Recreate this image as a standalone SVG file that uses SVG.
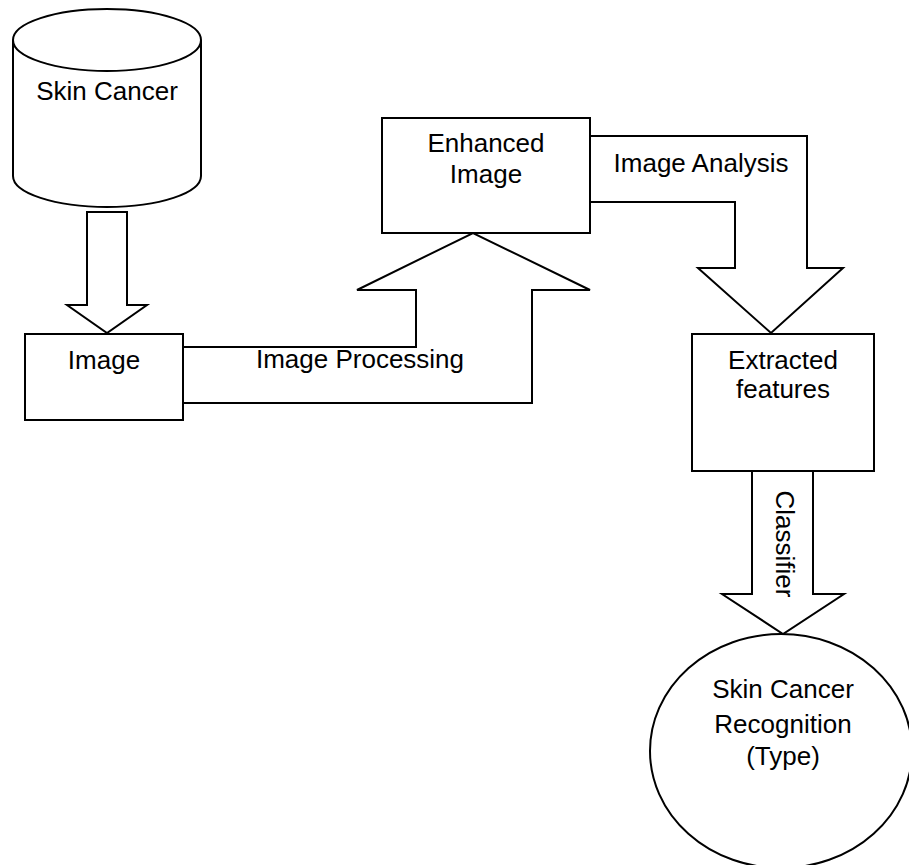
<svg xmlns="http://www.w3.org/2000/svg" width="909" height="865" viewBox="0 0 909 865">
<style>
.s{fill:#fff;stroke:#000;stroke-width:2;stroke-linejoin:miter}
.a{fill:#fff;stroke:#000;stroke-width:2;stroke-linejoin:miter}
text{font-family:"Liberation Sans",Arial,sans-serif;font-size:26px;fill:#000;text-anchor:middle}
</style>
<rect width="909" height="865" fill="#fff"/>
<g id="connectors">
<polygon class="a" points="87,212 127,212 127,305 147,305 107,333 67,305 87,305"/>
<polygon class="a" points="183,347 416,347 416,290 357,290 473,233 590,290 532,290 532,403 183,403"/>
<text x="360" y="368">Image Processing</text>
<polygon class="a" points="590,136 807,136 807,268 843,268 771,333 698,268 735,268 735,202 590,202"/>
<text x="701" y="172">Image Analysis</text>
<polygon class="a" points="752,470 813,470 813,594 844,594 783,634 722,594 752,594"/>
<text transform="translate(776,544) rotate(90)">Classifier</text>
</g>
<g id="skin-cancer-db">
<path class="s" d="M13,40 V176 A94,31 0 0 0 201,176 V40"/>
<ellipse class="s" cx="107" cy="40" rx="94" ry="31"/>
<text x="107" y="100">Skin Cancer</text>
</g>
<g id="image">
<rect class="s" x="25" y="334" width="158" height="86"/>
<text x="104" y="369">Image</text>
</g>
<g id="enhanced-image">
<rect class="s" x="382" y="118" width="208" height="115"/>
<text x="486" y="152">Enhanced</text>
<text x="486" y="183">Image</text>
</g>
<g id="extracted-features">
<rect class="s" x="692" y="334" width="182" height="137"/>
<text x="783" y="369">Extracted</text>
<text x="783" y="398">features</text>
</g>
<g id="recognition">
<ellipse class="s" cx="781" cy="751" rx="131" ry="117"/>
<text x="783" y="698">Skin Cancer</text>
<text x="783" y="733">Recognition</text>
<text x="783" y="765">(Type)</text>
</g>
</svg>
